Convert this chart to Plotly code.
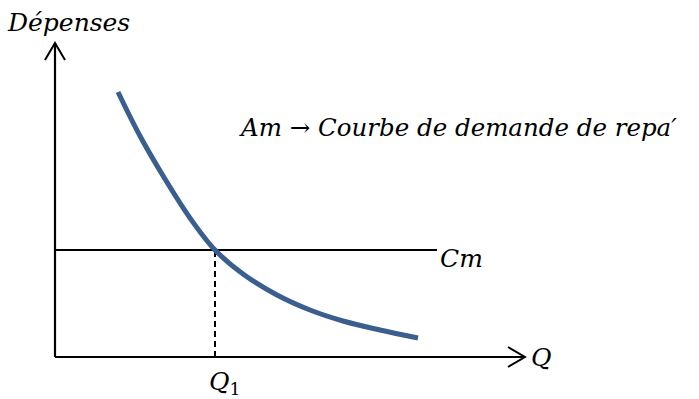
import plotly.graph_objects as go

# Data (abstract units: origin at the axes' corner)
curve_q = [63, 85, 110, 135, 160, 188, 222, 255, 288, 325, 363]
curve_dep = [265, 221, 178, 139, 107, 83, 62, 47, 36, 27, 19]
cm_level = 107
q1 = 160
x_axis_end = 470
y_axis_end = 314
cm_end = 382

y_title = "Dépenses"
x_title = "Q"
am_label = "Am → Courbe de demande de repa′"
cm_label = "Cm"
q1_label = "Q<sub><span style='font-style:normal'>1</span></sub>"

FONT = "DejaVu Serif"
black = "#000000"
blue = "#3A5E8E"

fig = go.Figure()

# axes
fig.add_trace(go.Scatter(x=[0, 0], y=[y_axis_end, 0], mode="lines",
                         line=dict(color=black, width=2.2), hoverinfo="skip"))
fig.add_trace(go.Scatter(x=[0, x_axis_end], y=[0, 0], mode="lines",
                         line=dict(color=black, width=2.2), hoverinfo="skip"))
# arrowheads (open chevrons)
ah_w, ah_l = 10, 17
fig.add_trace(go.Scatter(x=[-ah_w, 0, ah_w], y=[y_axis_end - ah_l, y_axis_end, y_axis_end - ah_l],
                         mode="lines", line=dict(color=black, width=2), hoverinfo="skip"))
fig.add_trace(go.Scatter(x=[x_axis_end - ah_l, x_axis_end, x_axis_end - ah_l], y=[ah_w, 0, -ah_w],
                         mode="lines", line=dict(color=black, width=2), hoverinfo="skip"))

# Cm line
fig.add_trace(go.Scatter(x=[0, cm_end], y=[cm_level, cm_level], mode="lines",
                         line=dict(color=black, width=1.8), hoverinfo="skip"))
# dashed Q1
fig.add_trace(go.Scatter(x=[q1, q1], y=[0, cm_level], mode="lines",
                         line=dict(color=black, width=2, dash="6px,4px"), hoverinfo="skip"))
# demand curve
fig.add_trace(go.Scatter(x=curve_q, y=curve_dep, mode="lines",
                         line=dict(color=blue, width=5, shape="spline", smoothing=1.0),
                         hoverinfo="skip"))

tf = dict(family=FONT, size=25, color=black, style="italic")
tf_am = dict(family=FONT, size=24.5, color=black, style="italic")
fig.add_annotation(x=13, y=335, text=y_title, showarrow=False, font=tf, xanchor="center", yanchor="middle")
fig.add_annotation(x=182, y=230, text=am_label, showarrow=False, font=tf_am, xanchor="left", yanchor="middle")
fig.add_annotation(x=383, y=cm_level - 8, text=cm_label, showarrow=False, font=tf, xanchor="left", yanchor="middle")
fig.add_annotation(x=x_axis_end + 4, y=0, text=x_title, showarrow=False, font=tf, xanchor="left", yanchor="middle")
fig.add_annotation(x=q1 + 10, y=-26, text=q1_label, showarrow=False, font=tf, xanchor="center", yanchor="middle")

fig.update_layout(
    width=699, height=399,
    margin=dict(l=0, r=0, t=0, b=0),
    paper_bgcolor="white", plot_bgcolor="white",
    showlegend=False,
    xaxis=dict(range=[-55, 644], visible=False, fixedrange=True),
    yaxis=dict(range=[-42, 357], visible=False, fixedrange=True),
)

fig.write_html("out.html", config={"displayModeBar": False},
               post_script="document.body.style.margin='0';document.body.style.overflow='hidden';")
